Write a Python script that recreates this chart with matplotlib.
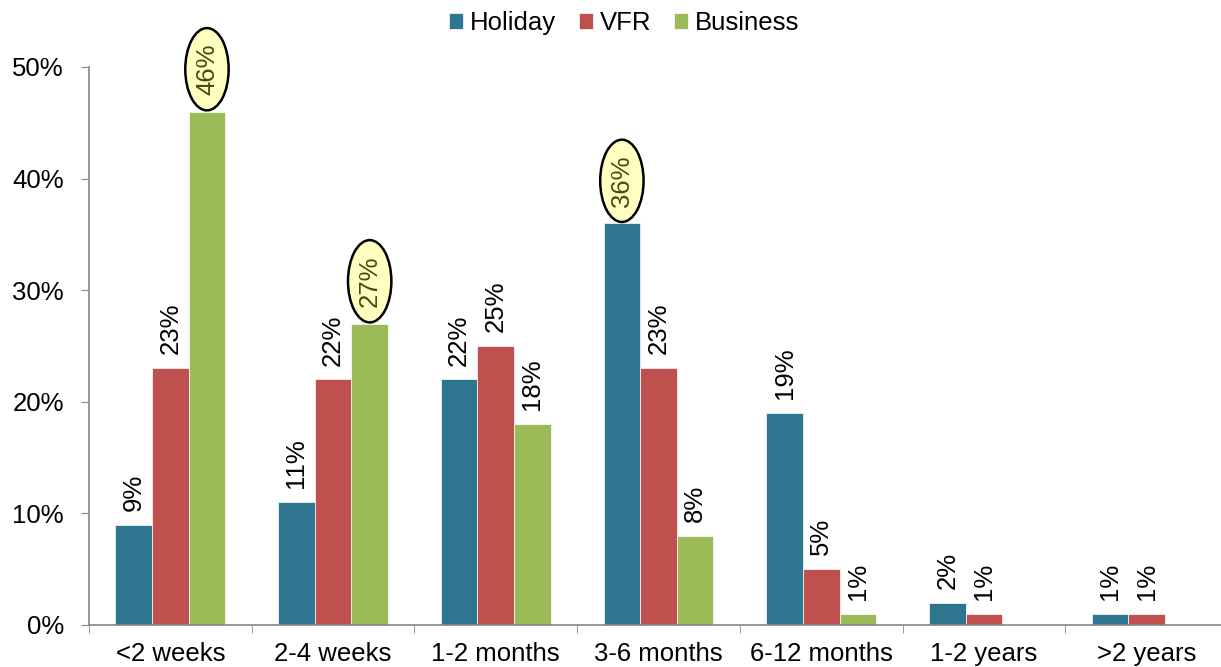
import matplotlib.pyplot as plt
import numpy as np
from matplotlib.ticker import PercentFormatter

categories = ["<2 weeks", "2-4 weeks", "1-2 months", "3-6 months", "6-12 months", "1-2 years", ">2 years"]
holiday = [9, 11, 22, 36, 19, 2, 1]
vfr = [23, 22, 25, 23, 5, 1, 1]
business = [46, 27, 18, 8, 1, 0, 0]
series_names = ["Holiday", "VFR", "Business"]
colors = ["#2E7590", "#C0504D", "#9BBB59"]
highlight = {(2, 0), (2, 1), (0, 3)}  # (series, category) with yellow ellipse

plt.rcParams['font.family'] = ['Liberation Sans', 'DejaVu Sans']
fig = plt.figure(figsize=(12.21, 6.67), dpi=100)
ax = fig.add_axes([89 / 1221, 42 / 667, 1139 / 1221, 558 / 667])

fs = 18.5
x = np.arange(len(categories))
w = 0.225
for i, (vals, name, c) in enumerate(zip([holiday, vfr, business], series_names, colors)):
    xs = x + (i - 1) * w
    for j, v in enumerate(vals):
        if v == 0:
            continue
        ax.bar(xs[j], v, w, color=c, edgecolor='white', linewidth=0.5,
               label=name if j == 0 else None)
        if (i, j) in highlight:
            ax.annotate(f"{v}%", (xs[j], v), xytext=(0, 12), textcoords='offset points',
                        rotation=90, ha='center', va='bottom', fontsize=fs,
                        color='#4A4A10', annotation_clip=False,
                        bbox=dict(boxstyle='ellipse,pad=0.13', fc='#FFFFC0', ec='black', lw=1.8))
        else:
            ax.annotate(f"{v}%", (xs[j], v), xytext=(0, 10), textcoords='offset points',
                        rotation=90, ha='center', va='bottom', fontsize=fs,
                        color='black', annotation_clip=False)

ax.set_xlim(-0.5, len(categories) - 0.5)
ax.set_ylim(0, 50)
ax.set_yticks(range(0, 51, 10))
ax.yaxis.set_major_formatter(PercentFormatter(decimals=0))
ax.set_xticks(x)
ax.set_xticklabels(categories)
ax.set_xticks(np.arange(-0.5, len(categories)), minor=True)
ax.tick_params(axis='x', which='major', length=0, pad=12, labelsize=fs)
ax.tick_params(axis='x', which='minor', length=6, color='#868686', direction='out')
ax.tick_params(axis='y', length=6, color='#868686', labelsize=fs, pad=12)
for s in ['top', 'right']:
    ax.spines[s].set_visible(False)
for s in ['left', 'bottom']:
    ax.spines[s].set_color('#868686')
    ax.spines[s].set_linewidth(1.2)

fig.legend(loc='center', bbox_to_anchor=(624 / 1221, 1 - 23 / 667), ncol=3, frameon=False,
           fontsize=18.5, handlelength=0.55, handleheight=0.55, handletextpad=0.25,
           columnspacing=0.9)

fig.savefig("out.png", dpi=100)
